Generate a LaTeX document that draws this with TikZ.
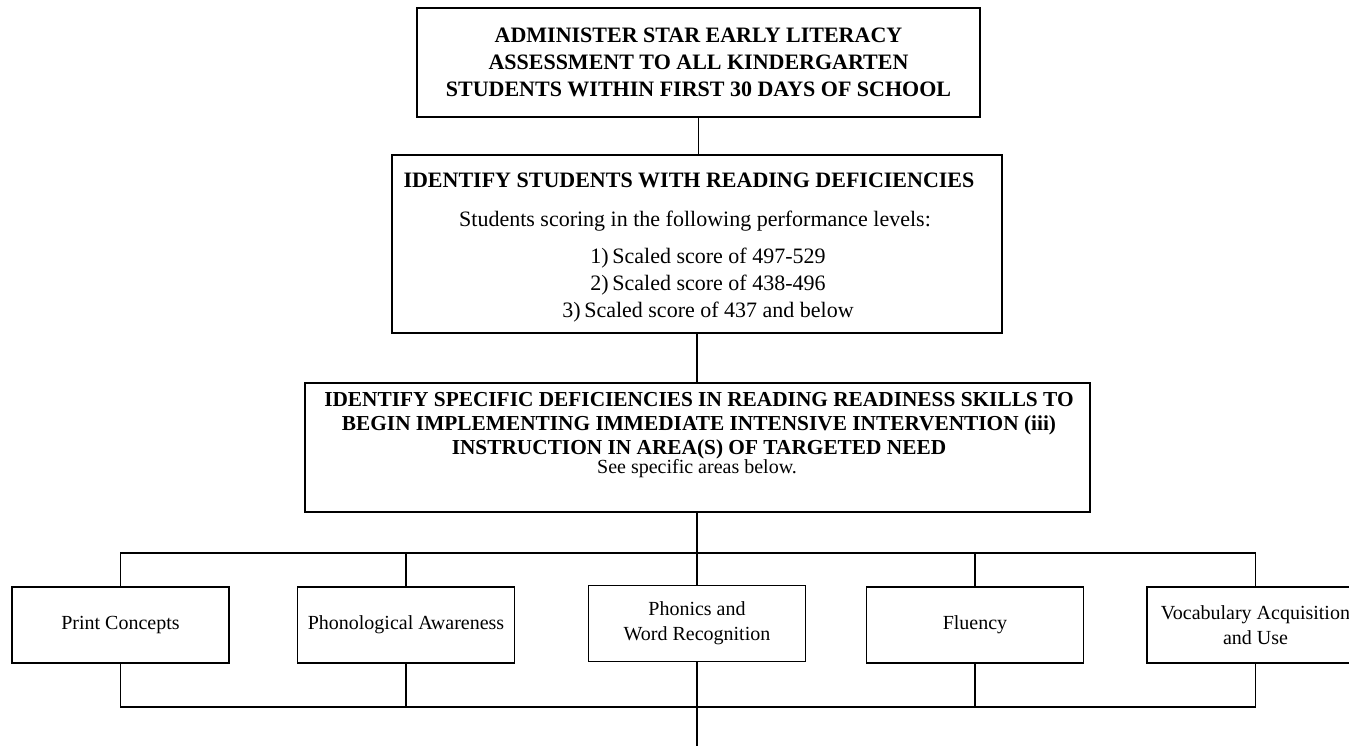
\documentclass[tikz,border=0pt]{standalone}
\usepackage{fontspec}
\setmainfont{Liberation Serif}
\begin{document}
\begin{tikzpicture}[x=0.75pt,y=-0.75pt,
  bigbox/.style={draw, line width=2.2pt, inner sep=0pt},
  smallbox/.style={draw, line width=1.3pt, inner sep=0pt, align=center,
    minimum width=217*0.75pt, minimum height=76*0.75pt,
    font=\fontsize{15}{18.5}\selectfont},
  conn/.style={line width=1.1pt},
  hd/.style={font=\bfseries\fontsize{16.5}{20}\selectfont, align=center, inner sep=0pt},
  hdtight/.style={font=\bfseries\fontsize{16}{18}\selectfont, align=center, inner sep=0pt},
  tx/.style={font=\fontsize{16.5}{20.25}\selectfont, align=center, inner sep=0pt},
  txs/.style={font=\fontsize{15}{18}\selectfont, align=center, inner sep=0pt}]
\fill[white] (0,0) rectangle (1349,746);
\useasboundingbox (0,0) rectangle (1349,746);

% top boxes
\node[bigbox, minimum width=563*0.75pt, minimum height=109*0.75pt, hd] (b1) at (698.5,62.5)
  {ADMINISTER STAR EARLY LITERACY\\ASSESSMENT TO ALL KINDERGARTEN\\STUDENTS WITHIN FIRST 30 DAYS OF SCHOOL};

\node[bigbox, minimum width=610*0.75pt, minimum height=178*0.75pt] (b2) at (697,244) {};
\node[hd] (b2t) at (689,180) {IDENTIFY STUDENTS WITH READING DEFICIENCIES};
\node[tx] (b2s) at (695,221) {Students scoring in the following performance levels:};
\node[tx] (b2l) at (708,285) {1)\,Scaled score of 497-529\\2)\,Scaled score of 438-496\\3)\,Scaled score of 437 and below};

\node[bigbox, minimum width=785*0.75pt, minimum height=129*0.75pt] (b3) at (697.5,447.5) {};
\node[hdtight] (b3t) at (699,426) {IDENTIFY SPECIFIC DEFICIENCIES IN READING READINESS SKILLS TO\\BEGIN IMPLEMENTING IMMEDIATE INTENSIVE INTERVENTION (iii)\\INSTRUCTION IN AREA(S) OF TARGETED NEED};
\node[txs] (b3s) at (697,469) {See specific areas below.};

% bottom row
\node[smallbox] (pc) at (120.5,625) {Print Concepts};
\node[smallbox] (pa) at (406,625) {Phonological Awareness};
\node[smallbox] (pw) at (697,623.5) {Phonics and\\Word Recognition};
\node[smallbox] (fl) at (975,625) {Fluency};
\node[smallbox] (va) at (1255.5,625) {Vocabulary Acquisition\\and Use};

\coordinate (tb) at (697,553);
\coordinate (bb) at (697,707);
\coordinate (end) at (697,746);

% connectors
\draw[conn] (b1.south) -- (b1.south |- b2.north);
\draw[conn] (b2.south) -- (b2.south |- b3.north);
\draw[conn] (b3.south -| pw.north) -- (pw.north);
\draw[conn] (pc.north) -- (pc.north |- tb) -| (va.north);
\draw[conn] (pa.north) -- (pa.north |- tb);
\draw[conn] (fl.north) -- (fl.north |- tb);
\draw[conn] (pc.south) -- (pc.south |- bb) -| (va.south);
\draw[conn] (pa.south) -- (pa.south |- bb);
\draw[conn] (fl.south) -- (fl.south |- bb);
\draw[conn] (pw.south) -- (end);
\end{tikzpicture}
\end{document}
